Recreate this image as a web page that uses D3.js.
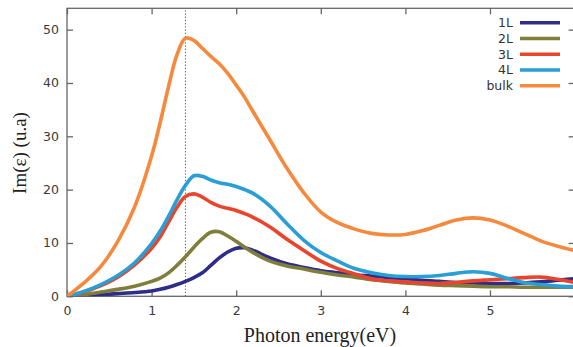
<!DOCTYPE html>
<html>
<head>
<meta charset="utf-8">
<script src="https://cdn.jsdelivr.net/npm/d3@7"></script>
<style>
  html, body { margin: 0; padding: 0; background: #fff; }
  svg { display: block; }
</style>
</head>
<body>
<svg id="chart" width="573" height="347"></svg>
<script>
// ---- data ----
const energies = [0,0.2,0.4,0.6,0.8,1.0,1.1,1.2,1.3,1.4,1.5,1.6,1.7,1.8,1.9,2.0,2.1,2.2,2.4,2.6,2.8,3.0,3.2,3.4,3.6,3.8,4.0,4.2,4.4,4.6,4.8,5.0,5.2,5.4,5.6,5.8,6.0];
const seriesNames = ["1L","2L","3L","4L","bulk"];
const values1L   = [0,0.1,0.3,0.5,0.7,1.0,1.3,1.7,2.2,2.8,3.5,4.4,5.8,7.2,8.3,9.0,9.1,8.6,7.2,6.1,5.4,4.8,4.4,4.0,3.8,3.5,3.3,3.0,2.8,2.6,2.5,2.4,2.4,2.5,2.7,3.0,3.3];
const values2L   = [0,0.3,0.8,1.3,1.9,2.8,3.4,4.4,5.8,7.4,9.2,10.8,12.0,12.1,11.3,10.3,9.2,8.2,6.6,5.7,5.1,4.5,4.0,3.6,3.1,2.8,2.5,2.3,2.1,2.0,1.9,1.8,1.8,1.7,1.7,1.7,1.7];
const values3L   = [0,0.8,2.0,3.6,5.9,9.0,11.1,13.9,16.7,18.7,19.2,18.6,17.6,16.9,16.5,16.1,15.5,14.8,13.0,10.7,8.6,6.6,5.2,4.2,3.3,2.9,2.7,2.5,2.4,2.6,2.9,3.1,3.3,3.5,3.6,3.2,2.6];
const values4L   = [0,0.9,2.2,3.9,6.3,9.9,12.2,15.0,18.1,20.8,22.6,22.5,21.8,21.3,21.0,20.6,20.0,19.3,16.9,13.6,10.5,8.2,6.6,5.2,4.4,3.9,3.7,3.7,3.9,4.3,4.6,4.3,3.4,2.6,2.2,1.9,1.8];
const valuesBulk = [0,2.5,5.6,10.3,16.8,26.3,32.5,39.3,45.3,48.4,48.0,46.5,45.0,43.6,41.8,39.6,37.3,34.6,29.3,24.0,19.4,15.8,13.8,12.6,11.8,11.5,11.6,12.3,13.3,14.3,14.7,14.3,13.2,11.8,10.4,9.4,8.6];
const seriesColors = ["#2e2d8a","#807e3a","#e8452c","#2a9fd6","#f5893e"];
const xTicks = [0,1,2,3,4,5,6];
const xTickLabels = ["0","1","2","3","4","5",""];
const yTicks = [0,10,20,30,40,50];
const markerEnergy = 1.4;

const allValues = [values1L, values2L, values3L, values4L, valuesBulk];

// ---- layout ----
const svg = d3.select("#chart");
const plotL = 67, plotR = 574.6, plotT = 8.3, plotB = 296.3;
const x = d3.scaleLinear().domain([0, 6]).range([plotL, plotR]);
const y = d3.scaleLinear().domain([0, 54]).range([plotB, plotT]);

const axisColor = "#666";
const tickFont = "'DejaVu Sans', sans-serif";

// frame
svg.append("rect")
  .attr("x", plotL).attr("y", plotT)
  .attr("width", plotR - plotL).attr("height", plotB - plotT)
  .attr("fill", "none").attr("stroke", axisColor).attr("stroke-width", 1.3);

// axes with inward ticks
const xAxis = svg.append("g").attr("transform", `translate(0,${plotB})`)
  .call(d3.axisBottom(x).tickValues(xTicks).tickSize(-6).tickPadding(10)
    .tickFormat((d, i) => xTickLabels[i]));
const xAxisTop = svg.append("g").attr("transform", `translate(0,${plotT})`)
  .call(d3.axisTop(x).tickValues(xTicks).tickSize(-6).tickFormat(""));
const yAxis = svg.append("g").attr("transform", `translate(${plotL},0)`)
  .call(d3.axisLeft(y).tickValues(yTicks).tickSize(-6).tickPadding(8).tickFormat(d3.format("d")));
const yAxisRight = svg.append("g").attr("transform", `translate(${plotR},0)`)
  .call(d3.axisRight(y).tickValues(yTicks).tickSize(-6).tickFormat(""));

[xAxis, xAxisTop, yAxis, yAxisRight].forEach(g => {
  g.select(".domain").remove();
  g.selectAll(".tick line").attr("stroke", axisColor).attr("stroke-width", 1.3);
  g.selectAll(".tick text")
    .attr("fill", "#3a3a3a")
    .style("font-family", tickFont)
    .style("font-size", "12.5px");
});

// dotted marker line
svg.append("line")
  .attr("x1", x(markerEnergy)).attr("x2", x(markerEnergy))
  .attr("y1", y(0)).attr("y2", y(54))
  .attr("stroke", "#555").attr("stroke-width", 1)
  .attr("stroke-dasharray", "1.2,2");

// curves
const line = d3.line()
  .x((d, i) => x(energies[i]))
  .y(d => y(d))
  .curve(d3.curveCatmullRom.alpha(0.5));

svg.append("clipPath").attr("id", "plotclip")
  .append("rect").attr("x", plotL).attr("y", plotT)
  .attr("width", plotR - plotL).attr("height", plotB - plotT);

const curves = svg.append("g").attr("clip-path", "url(#plotclip)");
allValues.forEach((vals, i) => {
  curves.append("path")
    .datum(vals)
    .attr("d", line)
    .attr("fill", "none")
    .attr("stroke", seriesColors[i])
    .attr("stroke-width", 3.6)
    .attr("stroke-linejoin", "round")
    .attr("stroke-linecap", "round");
});

// legend
const legend = svg.append("g");
const legendRowY = d3.scaleLinear().domain([0, 4]).range([22.7, 85.7]);
seriesNames.forEach((name, i) => {
  const ly = legendRowY(i);
  legend.append("text")
    .attr("x", 513).attr("y", ly)
    .attr("dy", "0.36em")
    .attr("text-anchor", "end")
    .attr("fill", "#333")
    .style("font-family", tickFont)
    .style("font-size", "12.5px")
    .text(name);
  legend.append("line")
    .attr("x1", 520).attr("x2", 560)
    .attr("y1", ly).attr("y2", ly)
    .attr("stroke", seriesColors[i])
    .attr("stroke-width", 3.6);
});

// axis titles
svg.append("text")
  .attr("x", 320).attr("y", 342)
  .attr("text-anchor", "middle")
  .attr("fill", "#222")
  .style("font-family", "'Liberation Serif', 'DejaVu Serif', serif")
  .style("font-size", "20px")
  .text("Photon energy(eV)");

svg.append("text")
  .attr("transform", "translate(26,153) rotate(-90)")
  .attr("text-anchor", "middle")
  .attr("fill", "#222")
  .style("font-family", "'Liberation Serif', 'DejaVu Serif', serif")
  .style("font-size", "19px")
  .text("Im(ε) (u.a)");
</script>
</body>
</html>
